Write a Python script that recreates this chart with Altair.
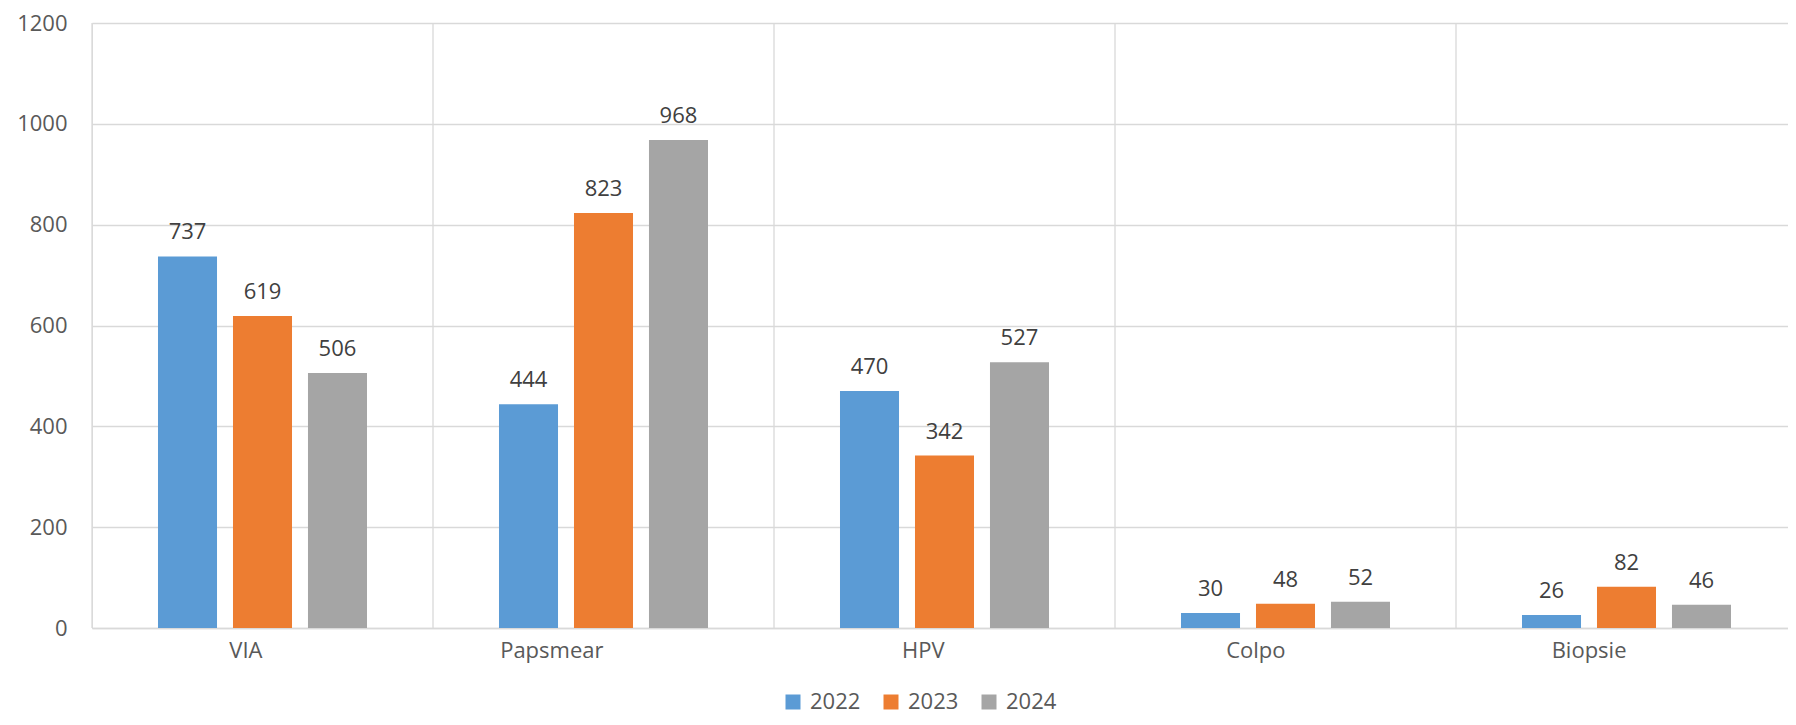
import altair as alt
import pandas as pd

categories = ["VIA", "Papsmear", "HPV", "Colpo", "Biopsie"]
years = ["2022", "2023", "2024"]
values_2022 = [737, 444, 470, 30, 26]
values_2023 = [619, 823, 342, 48, 82]
values_2024 = [506, 968, 527, 52, 46]
colors = ["#5B9BD5", "#ED7D31", "#A5A5A5"]
y_ticks = [0, 200, 400, 600, 800, 1000, 1200]

rows = []
for yr, vals in zip(years, [values_2022, values_2023, values_2024]):
    for c, v in zip(categories, vals):
        rows.append({"cat": c, "year": yr, "value": v})
df = pd.DataFrame(rows)
cat_df = pd.DataFrame({"cat": categories})

FONT = "Open Sans"
GRID = "#d9d9d9"

x_scale = alt.Scale(paddingInner=0, paddingOuter=0, range=[0, 1705])
x_enc = alt.X(
    "cat:N", sort=categories,
    scale=x_scale,
    axis=alt.Axis(title=None, ticks=False, grid=False, labelPadding=22,
                  labelFontSize=22, labelColor="#595959", labelFont=FONT,
                  domainColor=GRID, domainWidth=1.5, labelAngle=0),
)
xo = alt.XOffset("year:N", sort=years,
                 scale=alt.Scale(paddingInner=0.213, paddingOuter=0.88))
y_enc = alt.Y(
    "value:Q",
    scale=alt.Scale(domain=[0, 1200], nice=False),
    axis=alt.Axis(title=None, values=y_ticks, ticks=False, domain=False,
                  grid=True, gridColor=GRID, gridWidth=1.3, labelPadding=25,
                  format="d",
                  labelFontSize=22, labelColor="#595959", labelFont=FONT),
)

rules = alt.Chart(cat_df).mark_rule(color=GRID, strokeWidth=1.3).encode(
    x=alt.X("cat:N", sort=categories, bandPosition=0)
)

bars = alt.Chart(df).mark_bar().encode(
    x=x_enc,
    xOffset=xo,
    y=y_enc,
    color=alt.Color(
        "year:N",
        scale=alt.Scale(domain=years, range=colors),
        legend=alt.Legend(title=None, orient="none", legendX=690, legendY=668,
                          direction="horizontal", symbolType="square",
                          symbolSize=225, symbolStrokeWidth=0,
                          labelFontSize=22, labelFont=FONT,
                          labelColor="#595959", columnPadding=19,
                          labelOffset=6, padding=0),
    ),
)

labels = alt.Chart(df).mark_text(
    baseline="alphabetic", dy=-17, fontSize=22, font=FONT, color="#404040"
).encode(
    x=alt.X("cat:N", sort=categories),
    xOffset=xo,
    y=alt.Y("value:Q"),
    text=alt.Text("value:Q"),
)

chart = alt.layer(rules, bars, labels).properties(
    width=1696,
    height=605,
    autosize=alt.AutoSizeParams(type="none"),
    padding={"left": 84, "top": 15, "right": 0, "bottom": 89},
).configure_view(stroke=None).configure(background="white")

chart.save("out.html", embed_options={"renderer": "svg", "actions": False})
